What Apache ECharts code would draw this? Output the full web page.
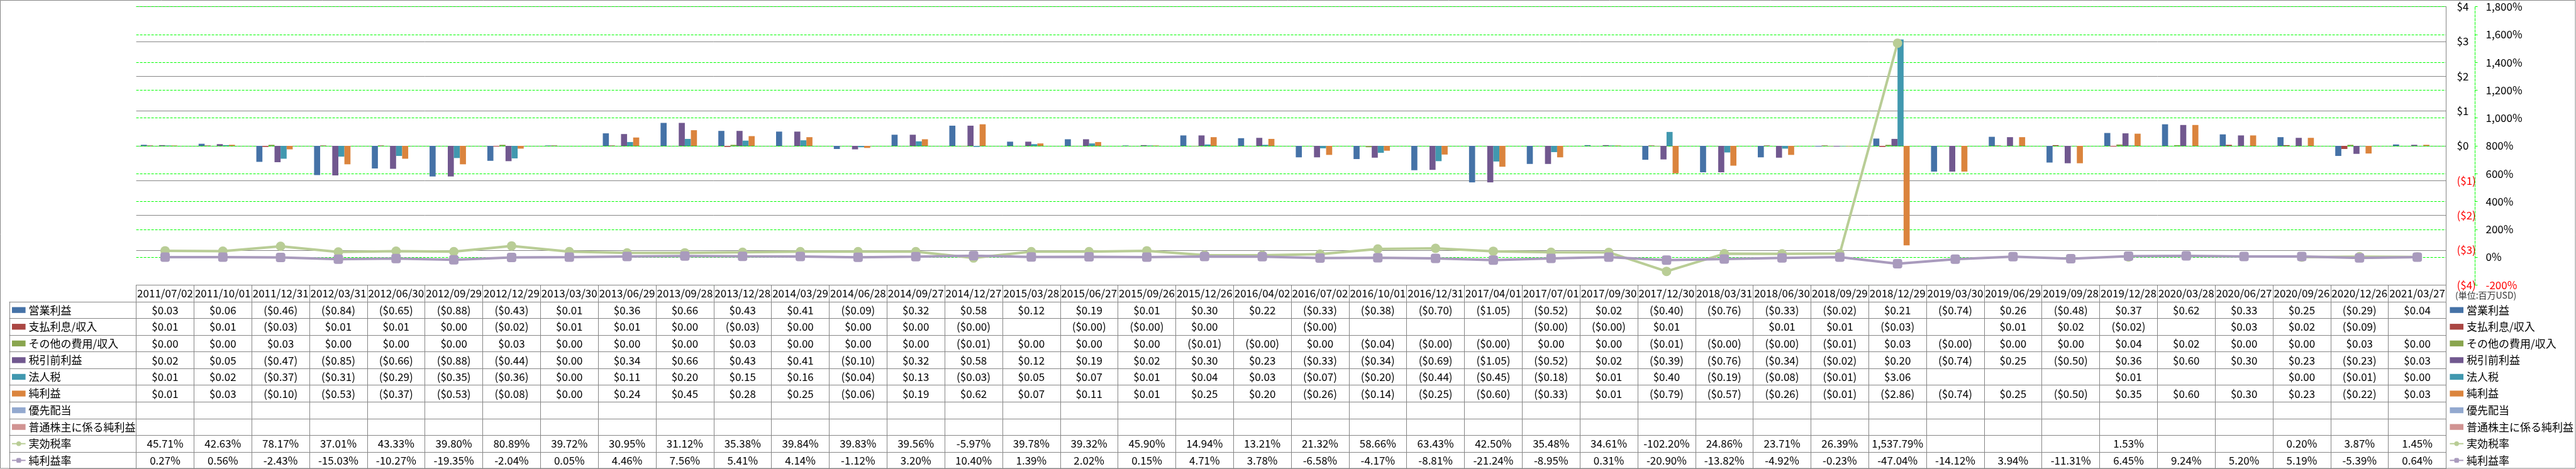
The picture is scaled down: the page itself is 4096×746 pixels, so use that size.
<!DOCTYPE html>
<html><head><meta charset="utf-8">
<script src="https://cdn.jsdelivr.net/npm/echarts@6/dist/echarts.min.js"></script>
<style>html,body{margin:0;padding:0;background:#fff}#c{width:4096px;height:746px}</style>
</head><body><div id="c"></div><script>
const dates = ['2011/07/02','2011/10/01','2011/12/31','2012/03/31','2012/06/30','2012/09/29','2012/12/29','2013/03/30','2013/06/29','2013/09/28','2013/12/28','2014/03/29','2014/06/28','2014/09/27','2014/12/27','2015/03/28','2015/06/27','2015/09/26','2015/12/26','2016/04/02','2016/07/02','2016/10/01','2016/12/31','2017/04/01','2017/07/01','2017/09/30','2017/12/30','2018/03/31','2018/06/30','2018/09/29','2018/12/29','2019/03/30','2019/06/29','2019/09/28','2019/12/28','2020/03/28','2020/06/27','2020/09/26','2020/12/26','2021/03/27'];
const opIncome = [0.03,0.06,-0.46,-0.84,-0.65,-0.88,-0.43,0.01,0.36,0.66,0.43,0.41,-0.09,0.32,0.58,0.12,0.19,0.01,0.30,0.22,-0.33,-0.38,-0.70,-1.05,-0.52,0.02,-0.40,-0.76,-0.33,-0.02,0.21,-0.74,0.26,-0.48,0.37,0.62,0.33,0.25,-0.29,0.04];
const interest = [0.01,0.01,-0.03,0.01,0.01,0.00,-0.02,0.01,0.01,0.00,-0.03,0.00,0.00,0.00,-0.001,null,-0.001,-0.001,0.00,null,-0.001,null,null,null,-0.001,-0.001,0.01,null,0.01,0.01,-0.03,null,0.01,0.02,-0.02,null,0.03,0.02,-0.09,null];
const otherExp = [0.00,0.00,0.03,0.00,0.00,0.00,0.03,0.00,0.00,0.00,0.03,0.00,0.00,0.00,-0.01,0.00,0.00,0.00,-0.01,-0.001,0.00,-0.04,-0.001,-0.001,0.00,0.00,-0.01,-0.001,-0.001,-0.01,0.03,-0.001,0.00,0.00,0.04,0.02,0.00,0.00,0.03,0.00];
const preTax = [0.02,0.05,-0.47,-0.85,-0.66,-0.88,-0.44,0.00,0.34,0.66,0.43,0.41,-0.10,0.32,0.58,0.12,0.19,0.02,0.30,0.23,-0.33,-0.34,-0.69,-1.05,-0.52,0.02,-0.39,-0.76,-0.34,-0.02,0.20,-0.74,0.25,-0.50,0.36,0.60,0.30,0.23,-0.23,0.03];
const incomeTax = [0.01,0.02,-0.37,-0.31,-0.29,-0.35,-0.36,0.00,0.11,0.20,0.15,0.16,-0.04,0.13,-0.03,0.05,0.07,0.01,0.04,0.03,-0.07,-0.20,-0.44,-0.45,-0.18,0.01,0.40,-0.19,-0.08,-0.01,3.06,null,null,null,0.01,null,null,0.00,-0.01,0.00];
const netIncome = [0.01,0.03,-0.10,-0.53,-0.37,-0.53,-0.08,0.00,0.24,0.45,0.28,0.25,-0.06,0.19,0.62,0.07,0.11,0.01,0.25,0.20,-0.26,-0.14,-0.25,-0.60,-0.33,0.01,-0.79,-0.57,-0.26,-0.01,-2.86,-0.74,0.25,-0.50,0.35,0.60,0.30,0.23,-0.22,0.03];
const prefDividend = [];
const commonNetIncome = [];
const taxRate = [45.71,42.63,78.17,37.01,43.33,39.80,80.89,39.72,30.95,31.12,35.38,39.84,39.83,39.56,-5.97,39.78,39.32,45.90,14.94,13.21,21.32,58.66,63.43,42.50,35.48,34.61,-102.20,24.86,23.71,26.39,1537.79,null,null,null,1.53,null,null,0.20,3.87,1.45];
const netMargin = [0.27,0.56,-2.43,-15.03,-10.27,-19.35,-2.04,0.05,4.46,7.56,5.41,4.14,-1.12,3.20,10.40,1.39,2.02,0.15,4.71,3.78,-6.58,-4.17,-8.81,-21.24,-8.95,0.31,-20.90,-13.82,-4.92,-0.23,-47.04,-14.12,3.94,-11.31,6.45,9.24,5.20,5.19,-5.39,0.64];
const seriesNames = ['営業利益','支払利息/収入','その他の費用/収入','税引前利益','法人税','純利益','優先配当','普通株主に係る純利益','実効税率','純利益率'];
const seriesColors = ['#4572A7','#AA4643','#89A54E','#71588F','#4198AF','#DB843D','#93A9CF','#D19392','#B9CD96','#A99BBD'];
const unitText = '(単位:百万USD)';

const FONT = "'Noto Sans CJK JP','Noto Sans',sans-serif";
const GRAY = '#868686';
const gridL = 216.6, gridW = 3672.9, gridT = 10.7, gridH = 442.6;
const rowH = 26.57;

function usd(v){ if (v === null || v === undefined) return ''; return v < 0 ? '($' + (-v).toFixed(2) + ')' : '$' + v.toFixed(2); }
function pct(v){ if (v === null || v === undefined) return ''; return v.toLocaleString('en-US',{minimumFractionDigits:2,maximumFractionDigits:2}) + '%'; }

const barData = [opIncome, interest, otherExp, preTax, incomeTax, netIncome, prefDividend, commonNetIncome];
const tableRows = barData.map(a => ({vals: a, fmt: usd})).concat([{vals: taxRate, fmt: pct}, {vals: netMargin, fmt: pct}]);

function tblAxis(grid, data, k, opts) {
  return Object.assign({
    gridIndex: grid, type: 'category', data: data, position: 'bottom', offset: k * rowH,
    boundaryGap: true, silent: true,
    axisLine: {show: true, onZero: false, lineStyle: {color: GRAY, width: 1}},
    axisTick: {show: true, interval: 0, length: rowH, alignWithLabel: false, lineStyle: {color: GRAY, width: 1}},
    axisLabel: {show: true, interval: 0, margin: 5, fontSize: 17, lineHeight: 17, fontFamily: FONT, color: '#000'},
    splitLine: {show: false}
  }, opts || {});
}

const xAxes = [tblAxis(0, dates, 0)];
tableRows.forEach((r, idx) => {
  xAxes.push(tblAxis(0, dates.map((d, i) => r.fmt(r.vals[i])), idx + 1));
});
xAxes.push(tblAxis(0, dates, 11, {axisTick: {show: false}, axisLabel: {show: false}}));
for (let k = 1; k <= 10; k++) xAxes.push(tblAxis(1, [''], k, {axisLabel: {show: false}}));
xAxes.push(tblAxis(1, [''], 11, {axisTick: {show: false}, axisLabel: {show: false}}));

const legendData = seriesNames.map((n, i) => i < 8 ? {name: n, icon: 'rect'} : {name: n});
const legendCommon = {
  orient: 'vertical', padding: 0, itemGap: 0, itemWidth: 21.6, itemHeight: 9.3,
  selectedMode: false, data: legendData,
  textStyle: {fontFamily: FONT, fontSize: 17, lineHeight: rowH, color: '#000'}
};

const series = barData.map((d, i) => ({
  name: seriesNames[i], type: 'bar', xAxisIndex: 0, yAxisIndex: 0, data: d,
  itemStyle: {color: seriesColors[i]}, barGap: '0%', barCategoryGap: '16%'
}));
series.push({
  name: seriesNames[8], type: 'line', xAxisIndex: 0, yAxisIndex: 1, data: taxRate,
  symbol: 'circle', symbolSize: 15, connectNulls: false, z: 5,
  lineStyle: {width: 4, color: seriesColors[8]}, itemStyle: {color: seriesColors[8]}
});
series.push({
  name: seriesNames[9], type: 'line', xAxisIndex: 0, yAxisIndex: 1, data: netMargin,
  symbol: 'roundRect', symbolSize: 15, connectNulls: false, z: 6,
  lineStyle: {width: 4, color: seriesColors[9]}, itemStyle: {color: seriesColors[9]}
});

const option = {
  animation: false,
  textStyle: {fontFamily: FONT},
  title: {text: unitText, left: 3904, top: 463, padding: 0,
    textStyle: {fontSize: 14, fontWeight: 'normal', color: '#333', fontFamily: FONT}},
  grid: [
    {left: gridL, top: gridT, width: gridW, height: gridH, outerBoundsMode: 'none', containLabel: false},
    {left: 15, top: gridT, width: gridL - 15, height: gridH, outerBoundsMode: 'none', containLabel: false}
  ],
  legend: [
    Object.assign({left: 18, top: 453.3 + rowH}, legendCommon),
    Object.assign({left: 3894.4, top: 453.3 + rowH}, legendCommon)
  ],
  xAxis: xAxes,
  yAxis: [
    {gridIndex: 0, type: 'value', position: 'right', min: -4, max: 4, interval: 1,
      axisLine: {show: true, lineStyle: {color: GRAY, width: 1}}, axisTick: {show: false},
      axisLabel: {margin: 17, fontSize: 17, fontFamily: FONT,
        formatter: v => v < 0 ? '($' + (-v) + ')' : '$' + v,
        color: v => parseFloat(v) < 0 ? '#FF0000' : '#000'},
      splitLine: {show: true, lineStyle: {color: GRAY, width: 1}}},
    {gridIndex: 0, type: 'value', position: 'right', offset: 46, min: -200, max: 1800, interval: 200,
      axisLine: {show: true, lineStyle: {color: '#00FF00', type: 'dashed', width: 1}},
      axisTick: {show: true, length: 4, lineStyle: {color: '#00FF00'}},
      axisLabel: {margin: 17, fontSize: 17, fontFamily: FONT,
        formatter: v => v.toLocaleString('en-US') + '%',
        color: v => parseFloat(v) < 0 ? '#FF0000' : '#000'},
      splitLine: {show: true, lineStyle: {color: '#00FF00', type: [4, 2], width: 1}}},
    {gridIndex: 1, type: 'value', show: false}
  ],
  graphic: [{type: 'rect', silent: true, shape: {x: 0.5, y: 0.5, width: 4094.5, height: 744.5},
    style: {fill: 'none', stroke: GRAY, lineWidth: 1}}],
  series: series
};
const chart = echarts.init(document.getElementById('c'));
chart.setOption(option);
</script></body></html>
